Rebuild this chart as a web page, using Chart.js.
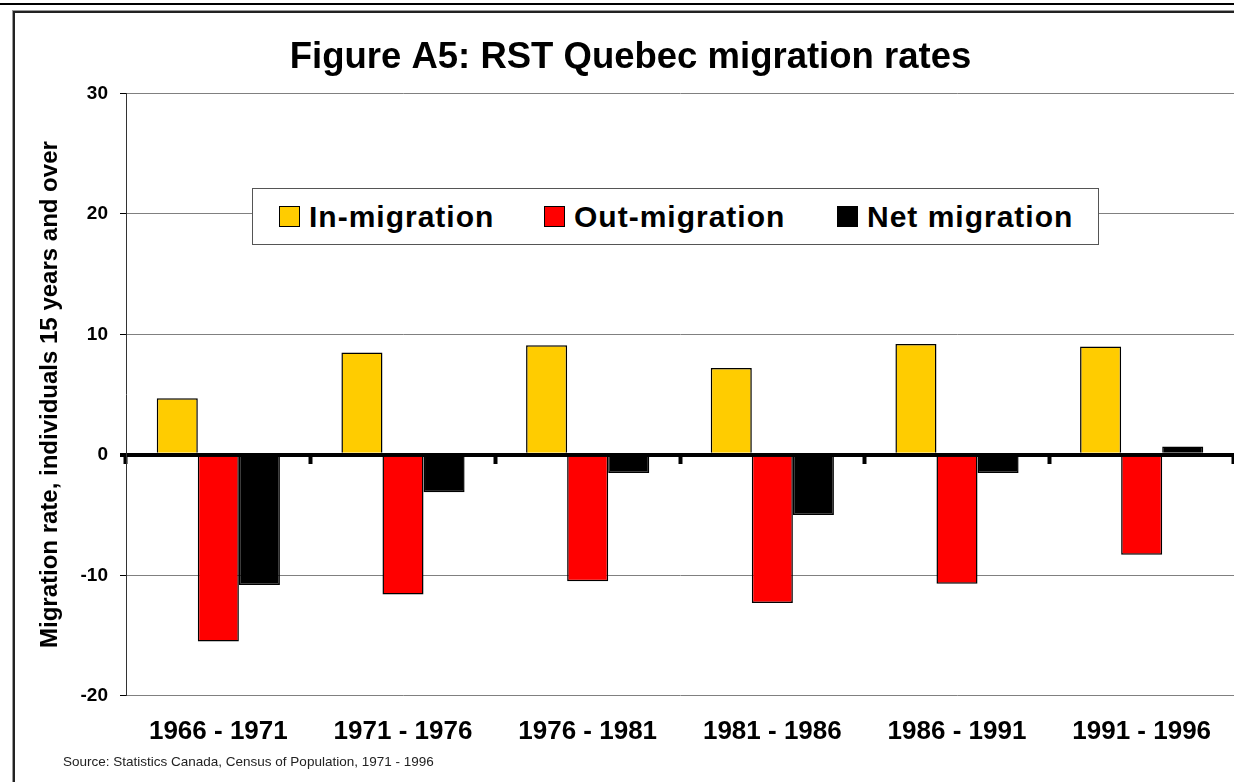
<!DOCTYPE html>
<html>
<head>
<meta charset="utf-8">
<title>Figure A5: RST Quebec migration rates</title>
<script src="https://cdn.jsdelivr.net/npm/chart.js@4.4.1/dist/chart.umd.min.js"></script>
<style>
    html, body { margin: 0; padding: 0; background: #fff; overflow: hidden; }
    body { width: 1234px; height: 782px; position: relative; font-family: 'Liberation Sans', Arial, sans-serif; }
    #topRule { position: absolute; left: 0; top: 3px; width: 1234px; height: 2px; background: #000; }
    #frame { position: absolute; left: 13px; top: 11px; width: 1240px; height: 800px;
             border-left: 2px solid #222; border-top: 2px solid #222; box-shadow: -1px -1px 0 #999; }
    #wrap { position: absolute; left: 0; top: 0; width: 1234px; height: 782px; }
    #legend { position: absolute; left: 252px; top: 188px; width: 845px; height: 55px;
              border: 1px solid #555; background: #fff; }
    .item { position: absolute; top: 0; height: 55px; display: flex; align-items: center;
            font-weight: bold; font-size: 30px; letter-spacing: 1px; color: #000; }
    .item .sw { width: 19px; height: 19px; border: 1px solid #000; margin-right: 9px; }
    #source { position: absolute; left: 63px; top: 754px; font-size: 13.5px; color: #222; }
</style>
</head>
<body>
<div id="topRule"></div>
<div id="frame"></div>
<div id="wrap"><canvas id="migrationChart"></canvas></div>
<div id="legend"></div>
<div id="source">Source: Statistics Canada, Census of Population, 1971 - 1996</div>

<script>
// Dati (tasso di migrazione, individui 15 anni e oltre)
const periods = ['1966 - 1971', '1971 - 1976', '1976 - 1981', '1981 - 1986', '1986 - 1991', '1991 - 1996'];
const inMigration = [4.7, 8.5, 9.1, 7.2, 9.2, 9.0];
const outMigration = [-15.5, -11.6, -10.5, -12.3, -10.7, -8.3];
const netMigration = [-10.8, -3.1, -1.5, -5.0, -1.5, 0.7];

const seriesNames = ['In-migration', 'Out-migration', 'Net migration'];
const seriesColors = ['#FFCC00', '#FF0000', '#000000'];
const legendLeft = [26, 291, 584];

const FONT = "'Liberation Sans', Arial, sans-serif";

document.addEventListener('DOMContentLoaded', () => {
    // Legenda (box dentro l'area del grafico)
    const legend = document.getElementById('legend');
    seriesNames.forEach((name, i) => {
        const item = document.createElement('div');
        item.className = 'item';
        item.style.left = legendLeft[i] + 'px';
        item.innerHTML = '<span class="sw" style="background:' + seriesColors[i] + '"></span>' + name;
        legend.appendChild(item);
    });

    initChart();
});

function initChart() {
    const ctx = document.getElementById('migrationChart').getContext('2d');
    const series = [inMigration, outMigration, netMigration];

    new Chart(ctx, {
        type: 'bar',
        data: {
            labels: periods,
            datasets: series.map((values, i) => ({
                label: seriesNames[i],
                data: values,
                backgroundColor: seriesColors[i],
                borderColor: '#000',
                borderWidth: 1.5,
                categoryPercentage: 0.667,
                barPercentage: 1.0
            }))
        },
        options: {
            responsive: true,
            maintainAspectRatio: false,
            animation: false,
            layout: { padding: { left: 27, right: 0, top: 0, bottom: 15 } },
            plugins: {
                legend: { display: false },
                tooltip: { enabled: false },
                title: {
                    display: true,
                    text: 'Figure A5: RST Quebec migration rates',
                    color: '#000',
                    font: { family: FONT, size: 36.5, weight: 'bold' },
                    padding: { top: 36, bottom: 13.6 }
                }
            },
            scales: {
                x: {
                    grid: { display: false, drawTicks: false },
                    border: { display: false },
                    ticks: {
                        color: '#000',
                        padding: 20,
                        font: { family: FONT, size: 26, weight: 'bold' }
                    }
                },
                // linea dello zero con le tacche tra le categorie
                xZero: {
                    axis: 'x',
                    type: 'category',
                    position: { y: 0 },
                    offset: true,
                    z: 1,
                    grid: {
                        offset: true,
                        drawOnChartArea: false,
                        drawTicks: true,
                        tickLength: 7,
                        tickWidth: 4,
                        tickColor: '#000'
                    },
                    border: { display: true, color: '#000', width: 4 },
                    ticks: { display: false }
                },
                y: {
                    min: -20,
                    max: 30,
                    afterFit: (scale) => { scale.width = 99; },
                    ticks: {
                        stepSize: 10,
                        color: '#000',
                        padding: 12,
                        font: { family: FONT, size: 19, weight: 'bold' }
                    },
                    grid: {
                        color: (c) => c.tick && c.tick.value === 0 ? '#000' : '#808080',
                        lineWidth: (c) => c.tick && c.tick.value === 0 ? 4 : 1,
                        tickColor: '#000',
                        tickWidth: (c) => c.tick && c.tick.value === 0 ? 4 : 1,
                        tickLength: 6
                    },
                    border: { display: true, color: '#333', width: 1 },
                    title: {
                        display: true,
                        text: 'Migration rate, individuals 15 years and over',
                        color: '#000',
                        font: { family: FONT, size: 24, weight: 'bold' },
                        padding: { top: 9, bottom: 0 }
                    }
                }
            }
        }
    });
}
</script>
</body>
</html>
